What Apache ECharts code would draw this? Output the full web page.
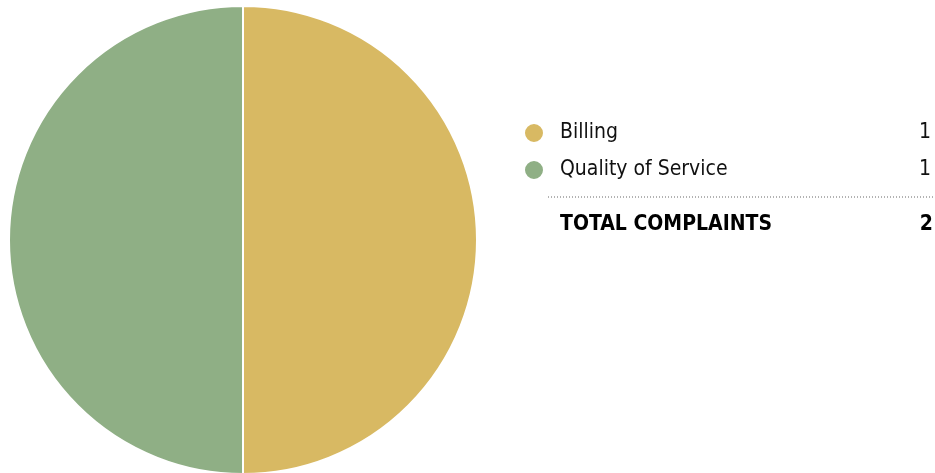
<!DOCTYPE html>
<html>
<head>
<meta charset="utf-8">
<style>html,body{margin:0;padding:0;background:#fff;}#c{width:935px;height:473px;}</style>
<script src="https://cdn.jsdelivr.net/npm/echarts@6/dist/echarts.min.js"></script>
</head>
<body>
<div id="c"></div>
<script>
const categories = ["Billing", "Quality of Service"];
const values = [1, 1];
const colors = ["#D8B963", "#8FAF85"];
const totalLabel = "TOTAL COMPLAINTS";

const total = values.reduce((a, b) => a + b, 0);
const FONT = "'DejaVu Sans Condensed', 'Liberation Sans Narrow', sans-serif";
const chart = echarts.init(document.getElementById('c'));
chart.setOption({
  animation: false,
  color: colors,
  legend: {
    orient: 'vertical',
    left: 518,
    top: 117,
    icon: 'circle',
    itemWidth: 20,
    itemHeight: 20,
    itemGap: 15,
    data: categories,
    formatter: function (name) {
      const i = categories.indexOf(name);
      return '{n|' + name + '}{v|' + values[i] + '}';
    },
    textStyle: {
      fontFamily: FONT,
      rich: {
        n: { width: 340, padding: [0, 0, 0, 11], fontSize: 21, color: '#111', fontFamily: FONT },
        v: { width: 31, align: 'right', fontSize: 21, color: '#111', fontFamily: FONT }
      }
    }
  },
  graphic: [
    { type: 'line', shape: { x1: 548, y1: 197, x2: 935, y2: 197 },
      style: { stroke: '#666', lineWidth: 1, lineDash: [1, 2] } },
    { type: 'text', left: 560, top: 214,
      style: { text: totalLabel, font: "bold 21px " + FONT, fill: '#000' } },
    { type: 'text', right: 2, top: 214,
      style: { text: String(total), font: "bold 21px " + FONT, fill: '#000', textAlign: 'right' } }
  ],
  series: [{
    type: 'pie',
    center: [243, 240],
    radius: [0, 234],
    startAngle: 90,
    clockwise: true,
    label: { show: false },
    labelLine: { show: false },
    silent: true,
    itemStyle: { borderColor: '#fff', borderWidth: 2 },
    data: categories.map((c, i) => ({ name: c, value: values[i] }))
  }]
});
</script>
</body>
</html>
